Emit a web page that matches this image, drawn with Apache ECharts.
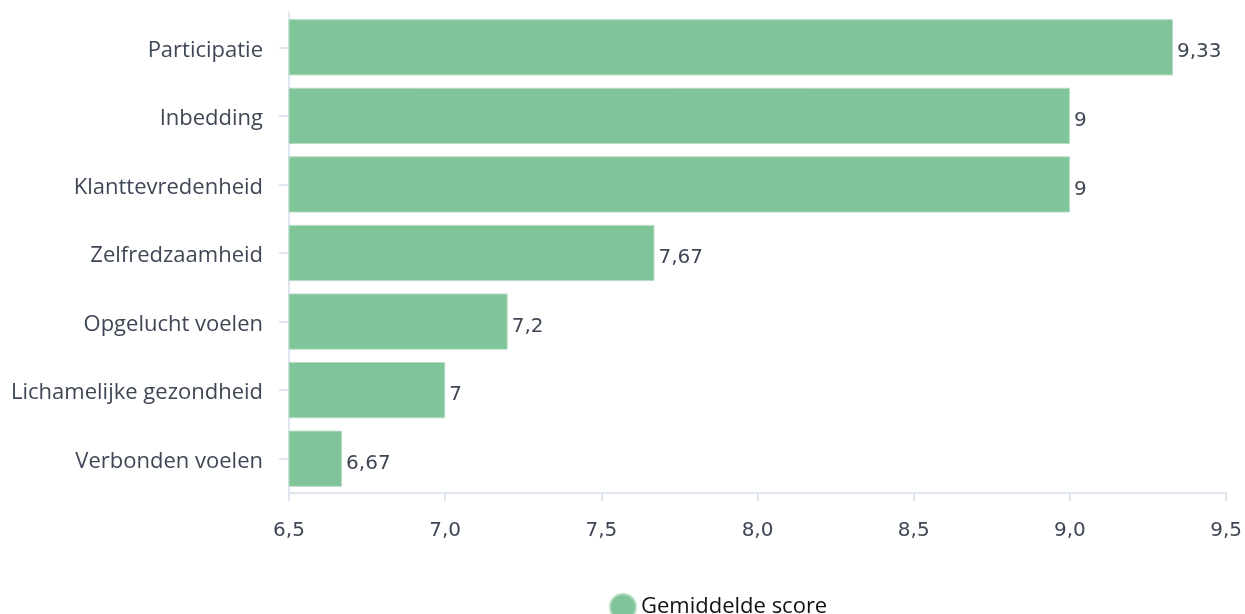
<!DOCTYPE html>
<html><head><meta charset="utf-8">
<script src="https://cdn.jsdelivr.net/npm/echarts@6/dist/echarts.min.js"></script>
<style>html,body{margin:0;padding:0;background:#fff}#c{width:1245px;height:614px}</style>
</head><body><div id="c"></div>
<script>
const categories = ["Verbonden voelen","Lichamelijke gezondheid","Opgelucht voelen","Zelfredzaamheid","Klanttevredenheid","Inbedding","Participatie"];
const scores = [6.67, 7, 7.2, 7.67, 9, 9, 9.33];
const seriesName = "Gemiddelde score";
const fmt = v => String(v).replace('.', ',');
const chart = echarts.init(document.getElementById('c'));
chart.setOption({
  animation: false,
  grid: {left: 289, right: 18, top: 13, bottom: 121},
  legend: {
    data: [seriesName], left: 604, top: 588, icon: 'circle', itemWidth: 26, itemHeight: 26, itemGap: 10,
    textStyle: {fontFamily: 'Open Sans', fontSize: 22, color: '#111'}
  },
  xAxis: {
    type: 'value', min: 6.5, max: 9.5, interval: 0.5,
    axisLine: {show: true, lineStyle: {color: '#e0e6f1', width: 2}},
    axisTick: {show: true, length: 8, lineStyle: {color: '#e0e6f1', width: 2}},
    splitLine: {show: false},
    axisLabel: {margin: 28, fontFamily: 'DejaVu Sans', fontSize: 20, color: '#3f4756',
      formatter: v => v.toFixed(1).replace('.', ',')}
  },
  yAxis: {
    type: 'category', data: categories,
    axisLine: {show: true, lineStyle: {color: '#e0e6f1', width: 2}},
    axisTick: {show: true, length: 10, alignWithLabel: true, lineStyle: {color: '#e0e6f1', width: 2}},
    axisLabel: {margin: 26, fontFamily: 'Open Sans', fontSize: 22, color: '#3f4756',
      formatter: v => '{a|' + v + '}',
      rich: {a: {fontFamily: 'Open Sans', fontSize: 22, color: '#3f4756', padding: [6, 0, 0, 0]}}}
  },
  series: [{
    name: seriesName, type: 'bar', data: scores, barCategoryGap: '18%',
    itemStyle: {color: '#80c49a', borderColor: '#b5dcc3', borderWidth: 1},
    label: {show: true, position: 'right', distance: 4, offset: [0, 5], fontFamily: 'DejaVu Sans', fontSize: 20, color: '#3f4756',
      formatter: p => fmt(p.value)}
  }]
});
</script></body></html>
